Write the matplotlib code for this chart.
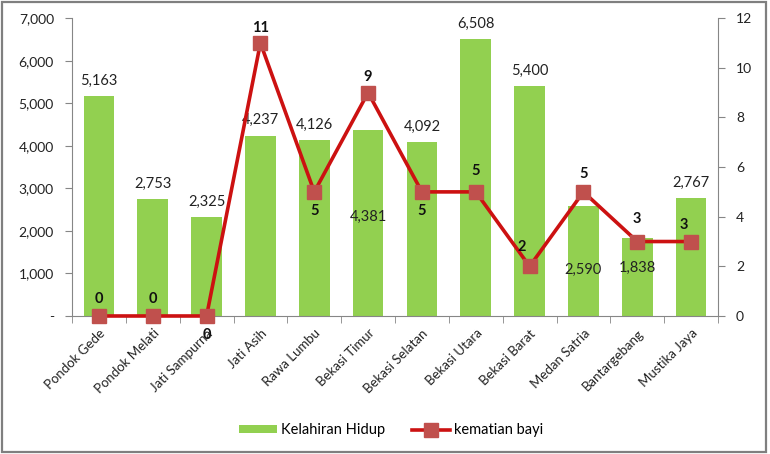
import matplotlib
matplotlib.use("Agg")
import matplotlib.pyplot as plt
from matplotlib.patches import Rectangle
from matplotlib.ticker import FuncFormatter, FixedLocator
import numpy as np

plt.rcParams['font.family'] = ['Lato', 'DejaVu Sans']

categories = ["Pondok Gede", "Pondok Melati", "Jati Sampurna", "Jati Asih", "Rawa Lumbu",
              "Bekasi Timur", "Bekasi Selatan", "Bekasi Utara", "Bekasi Barat", "Medan Satria",
              "Bantargebang", "Mustika Jaya"]
kelahiran = [5163, 2753, 2325, 4237, 4126, 4381, 4092, 6508, 5400, 2590, 1838, 2767]
kematian = [0, 0, 0, 11, 5, 9, 5, 5, 2, 5, 3, 3]

# label offsets (points) - styling only
bar_lbl_off = [6, 6, 6, 6, 6, -68, 6, 6, 6, -51, -27, 6]
line_lbl_off = [(0, 7), (0, 7), (0, -19), (0, 6), (0, -19), (0, 6), (0, -19), (0, 10),
                (-6, 9), (0, 8), (0, 11), (-5, 7)]

fig = plt.figure(figsize=(7.7, 4.54), dpi=100)
ax = fig.add_axes([0.0935, 0.304, 0.839, 0.656])
ax2 = ax.twinx()

x = np.arange(len(categories))
green = "#92D050"
ax.bar(x, kelahiran, width=0.57, color=green, zorder=2, label="Kelahiran Hidup")
ax.set_ylim(0, 7000)
ax.set_xlim(-0.5, len(categories) - 0.5)
ax.yaxis.set_major_locator(FixedLocator(range(0, 7001, 1000)))
ax.yaxis.set_major_formatter(FuncFormatter(lambda v, p: "-" if v == 0 else f"{int(v):,}"))

for xi, v, off in zip(x, kelahiran, bar_lbl_off):
    ax.annotate(f"{v:,}", (xi, v), xytext=(0, off), textcoords="offset points",
                ha="center", va="bottom", fontsize=10.5, color="#222222", zorder=5)

line, = ax2.plot(x, kematian, color="#CC1111", lw=2.6, marker="s", markersize=10,
                 markerfacecolor="#C0504D", markeredgecolor="#C0504D", zorder=3,
                 label="kematian bayi", clip_on=False)
ax2.set_ylim(0, 12)
ax2.yaxis.set_major_locator(FixedLocator(range(0, 13, 2)))

for xi, v, (dx, dy) in zip(x, kematian, line_lbl_off):
    ax2.annotate(str(v), (xi, v), xytext=(dx, dy), textcoords="offset points",
                 ha="center", va="bottom", fontsize=10.5, fontweight="bold",
                 color="#111111", zorder=6)

ax.set_zorder(ax2.get_zorder() - 1)
ax.patch.set_visible(False)
ax2.patch.set_visible(False)

axis_color = "#868686"
for a in (ax, ax2):
    a.spines["top"].set_visible(False)
    a.spines["left"].set_color(axis_color)
    a.spines["right"].set_color(axis_color)
    a.spines["bottom"].set_color(axis_color)
ax.spines["right"].set_visible(False)
ax2.spines["left"].set_visible(False)
ax2.spines["bottom"].set_visible(False)

ax.tick_params(axis="y", direction="out", length=5, color=axis_color, labelsize=10,
               labelcolor="#222222", pad=8)
ax2.tick_params(axis="y", direction="out", length=5, color=axis_color, labelsize=10,
                labelcolor="#222222", pad=8)

ax.set_xticks(x)
ax.set_xticklabels(categories, rotation=45, ha="right", rotation_mode="anchor",
                   fontsize=9.5, color="#222222")
ax.tick_params(axis="x", which="major", length=0, pad=8)
ax.set_xticks(np.arange(-0.5, len(categories), 1.0), minor=True)
ax.tick_params(axis="x", which="minor", direction="out", length=5, color=axis_color)

handles = [ax.patches[0], line]
leg = fig.legend(handles, ["Kelahiran Hidup", "kematian bayi"], loc="center",
                 bbox_to_anchor=(0.508, 0.052), ncol=2, frameon=False, fontsize=10.5,
                 handlelength=2.6, handleheight=0.5, columnspacing=1.8, handletextpad=0.3)

fig.patches.append(Rectangle((0.002, 0.004), 0.993, 0.992, transform=fig.transFigure,
                             fill=False, edgecolor="#7F7F7F", lw=1.6))

fig.savefig("out.png", dpi=100)
